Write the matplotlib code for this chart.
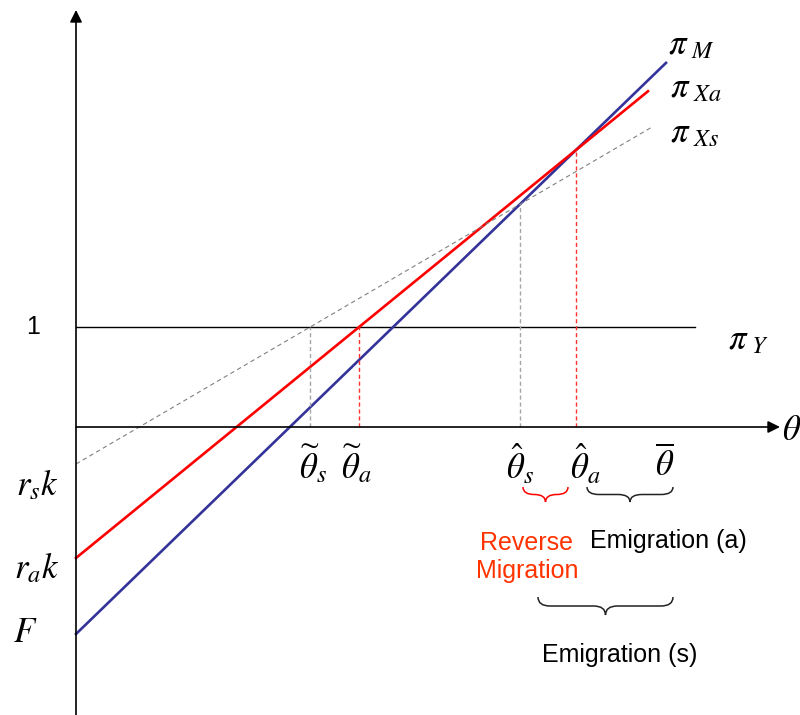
import numpy as np
import matplotlib
matplotlib.use("Agg")
import matplotlib.pyplot as plt
from matplotlib.path import Path
from matplotlib.patches import PathPatch

plt.rcParams['mathtext.fontset'] = 'stix'
plt.rcParams['font.family'] = ['Liberation Sans', 'DejaVu Sans']

# profit lines: pi = intercept + slope * theta, drawn up to theta_end
line_names = ['pi_M', 'pi_Xa', 'pi_Xs']
intercepts = [-2.07, -1.31, -0.37]
slopes = [0.968, 0.816, 0.585]
theta_end = [5.90, 5.72, 5.77]
line_colors = ['#333399', '#ff0000', '#808080']

pi_Y = 1.0
pi_Y_end = 6.19
theta_bar = 5.89
axis_x_end = 7.04
axis_y_end = 4.17
axis_y_start = -2.88

# braces: (theta_start, theta_end, pi_top, depth, colour)
braces = [(4.47, 4.92, -0.60, 0.15, '#ff0000'),
          (5.11, 5.97, -0.60, 0.15, '#222222'),
          (4.62, 5.97, -1.70, 0.18, '#222222')]


def brace_path(x0, x1, y, d):
    q = min(0.12, (x1 - x0) / 4)
    xm = (x0 + x1) / 2
    verts = [(x0, y), (x0, y - d / 2), (x0 + q, y - d / 2),
             (xm - q, y - d / 2),
             (xm, y - d / 2), (xm, y - d),
             (xm, y - d / 2), (xm + q, y - d / 2),
             (x1 - q, y - d / 2),
             (x1, y - d / 2), (x1, y)]
    codes = [Path.MOVETO, Path.CURVE3, Path.CURVE3, Path.LINETO,
             Path.CURVE3, Path.CURVE3, Path.CURVE3, Path.CURVE3,
             Path.LINETO, Path.CURVE3, Path.CURVE3]
    return Path(verts, codes)


fig = plt.figure(figsize=(8, 7.15), dpi=100)
ax = fig.add_axes([0, 0, 1, 1])
ax.set_xlim(-0.76, 7.24)
ax.set_ylim(-2.88, 4.27)
ax.axis('off')

# axes with arrows
ax.annotate('', xy=(axis_x_end, 0), xytext=(0, 0),
            arrowprops=dict(arrowstyle='-|>', color='k', lw=1.2, mutation_scale=18,
                            shrinkA=0, shrinkB=0))
ax.annotate('', xy=(0, axis_y_end), xytext=(0, axis_y_start),
            arrowprops=dict(arrowstyle='-|>', color='k', lw=1.2, mutation_scale=18,
                            shrinkA=0, shrinkB=0))
ax.plot([0, pi_Y_end], [pi_Y, pi_Y], color='k', lw=1.0)

for b, m, te, c in zip(intercepts, slopes, theta_end, line_colors):
    t = np.array([0, te])
    if c == '#808080':
        ax.plot(t, b + m * t, color=c, lw=0.8, ls=(0, (4, 3)))
    else:
        ax.plot(t, b + m * t, color=c, lw=1.9)

# threshold values
b_M, b_a, b_s = intercepts
m_M, m_a, m_s = slopes
tilde_s = (pi_Y - b_s) / m_s
tilde_a = (pi_Y - b_a) / m_a
hat_s = (b_s - b_M) / (m_M - m_s)
hat_a = (b_a - b_M) / (m_M - m_a)

vlines = [(tilde_s, pi_Y, '#a6a6a6'), (tilde_a, pi_Y, '#ff3333'),
          (hat_s, b_s + m_s * hat_s, '#a6a6a6'), (hat_a, b_a + m_a * hat_a, '#ff3333')]
for x, top, c in vlines:
    ax.plot([x, x], [0, top], color=c, lw=1.0, ls=(0, (3, 2)))

for x0, x1, y, d, c in braces:
    ax.add_patch(PathPatch(brace_path(x0, x1, y, d), fill=False, ec=c, lw=1.1))

# labels
mfs = 25
ax.text(-0.43, 1.0, '1', fontsize=18, ha='center', va='center')
ax.text(-0.39, -0.58, r'$r_s k$', fontsize=mfs, ha='center', va='center')
ax.text(-0.39, -1.41, r'$r_a k$', fontsize=mfs, ha='center', va='center')
ax.text(-0.51, -2.05, r'$F$', fontsize=mfs, ha='center', va='center')
ax.text(5.92, 3.82, r'$\pi_{\ M}$', fontsize=mfs, ha='left', va='center')
ax.text(5.94, 3.39, r'$\pi_{\ Xa}$', fontsize=mfs, ha='left', va='center')
ax.text(5.94, 2.94, r'$\pi_{\ Xs}$', fontsize=mfs, ha='left', va='center')
ax.text(6.52, 0.87, r'$\pi_{\ Y}$', fontsize=mfs, ha='left', va='center')
ax.text(7.06, -0.03, r'$\theta$', fontsize=mfs, ha='left', va='center')

ax.text(tilde_s + 0.03, -0.37, r'$\widetilde{\theta}_s$', fontsize=mfs, ha='center', va='center')
ax.text(tilde_a - 0.03, -0.37, r'$\widetilde{\theta}_a$', fontsize=mfs, ha='center', va='center')
ax.text(hat_s, -0.37, r'$\hat{\theta}_s$', fontsize=mfs, ha='center', va='center')
ax.text(hat_a + 0.09, -0.37, r'$\hat{\theta}_a$', fontsize=mfs, ha='center', va='center')
ax.text(theta_bar, -0.37, r'$\overline{\theta}$', fontsize=mfs, ha='center', va='center')

ax.text(4.51, -1.30, 'Reverse\nMigration', fontsize=18, color='#ff3300',
        ha='center', va='center', linespacing=1.25)
ax.text(5.92, -1.14, 'Emigration (a)', fontsize=18, ha='center', va='center')
ax.text(5.44, -2.28, 'Emigration (s)', fontsize=18, ha='center', va='center')

fig.savefig('out.png', dpi=100)
